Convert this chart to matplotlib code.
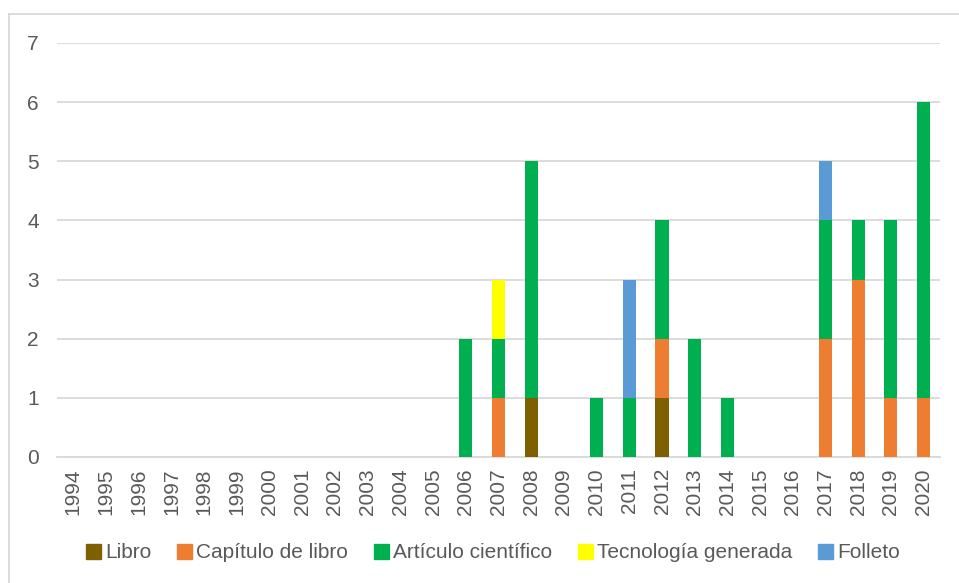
import matplotlib.pyplot as plt
import numpy as np
from matplotlib.lines import Line2D

plt.rcParams['font.family'] = ['Liberation Sans', 'DejaVu Sans']

years = [str(y) for y in range(1994, 2021)]
# values per year, 1994..2020
libro = [0]*14 + [1, 0, 0, 0, 1, 0, 0, 0, 0, 0, 0, 0, 0]
capitulo = [0]*13 + [1, 0, 0, 0, 0, 1, 0, 0, 0, 0, 2, 3, 1, 1]
articulo = [0]*12 + [2, 1, 4, 0, 1, 1, 2, 2, 1, 0, 0, 2, 1, 3, 5]
tecnologia = [0]*13 + [1] + [0]*13
folleto = [0]*17 + [2] + [0]*5 + [1, 0, 0, 0]

series = [
    ('Libro', libro, '#7F6000'),
    ('Capítulo de libro', capitulo, '#ED7D31'),
    ('Artículo científico', articulo, '#00B050'),
    ('Tecnología generada', tecnologia, '#FFFF00'),
    ('Folleto', folleto, '#5B9BD5'),
]

text_color = '#595959'
grid_color = '#D9D9D9'

fig = plt.figure(figsize=(9.59, 5.83), dpi=100)
ax = fig.add_axes([57/959, 1 - 457/583, (940 - 57)/959, (457 - 43)/583])

x = np.arange(len(years))
bottom = np.zeros(len(years))
for name, vals, color in series:
    vals = np.array(vals, dtype=float)
    ax.bar(x, vals, width=0.4, bottom=bottom, color=color, label=name, zorder=3,
           linewidth=0)
    bottom += vals

ax.set_ylim(0, 7)
ax.set_xlim(-0.5, len(years) - 0.5)
ax.set_yticks(range(0, 8))
ax.set_xticks(x)
ax.set_xticklabels(years, rotation=90)
ax.tick_params(axis='both', length=0, labelsize=15, colors=text_color)
ax.tick_params(axis='y', pad=13)
ax.tick_params(axis='x', pad=8)
ax.yaxis.grid(True, color=grid_color, linewidth=1.3, zorder=0)
for s in ['top', 'right', 'left']:
    ax.spines[s].set_visible(False)
ax.spines['bottom'].set_color(grid_color)
ax.spines['bottom'].set_linewidth(1.3)

handles = [plt.Rectangle((0, 0), 1, 1, color=c) for _, _, c in series]
fig.legend(handles, [n for n, _, _ in series], loc='center', ncol=5,
           bbox_to_anchor=(493/959, 1 - 553/583), frameon=False, fontsize=15,
           labelcolor=text_color, handlelength=0.7, handleheight=0.7,
           handletextpad=0.2, columnspacing=1.25)

# outer chart border (only top and left visible)
fig.add_artist(Line2D([9/959, 9/959], [0, 1 - 14/583], transform=fig.transFigure,
                      color=grid_color, linewidth=1.3))
fig.add_artist(Line2D([9/959, 1], [1 - 14/583, 1 - 14/583], transform=fig.transFigure,
                      color=grid_color, linewidth=1.3))

fig.savefig('out.png', dpi=100)
